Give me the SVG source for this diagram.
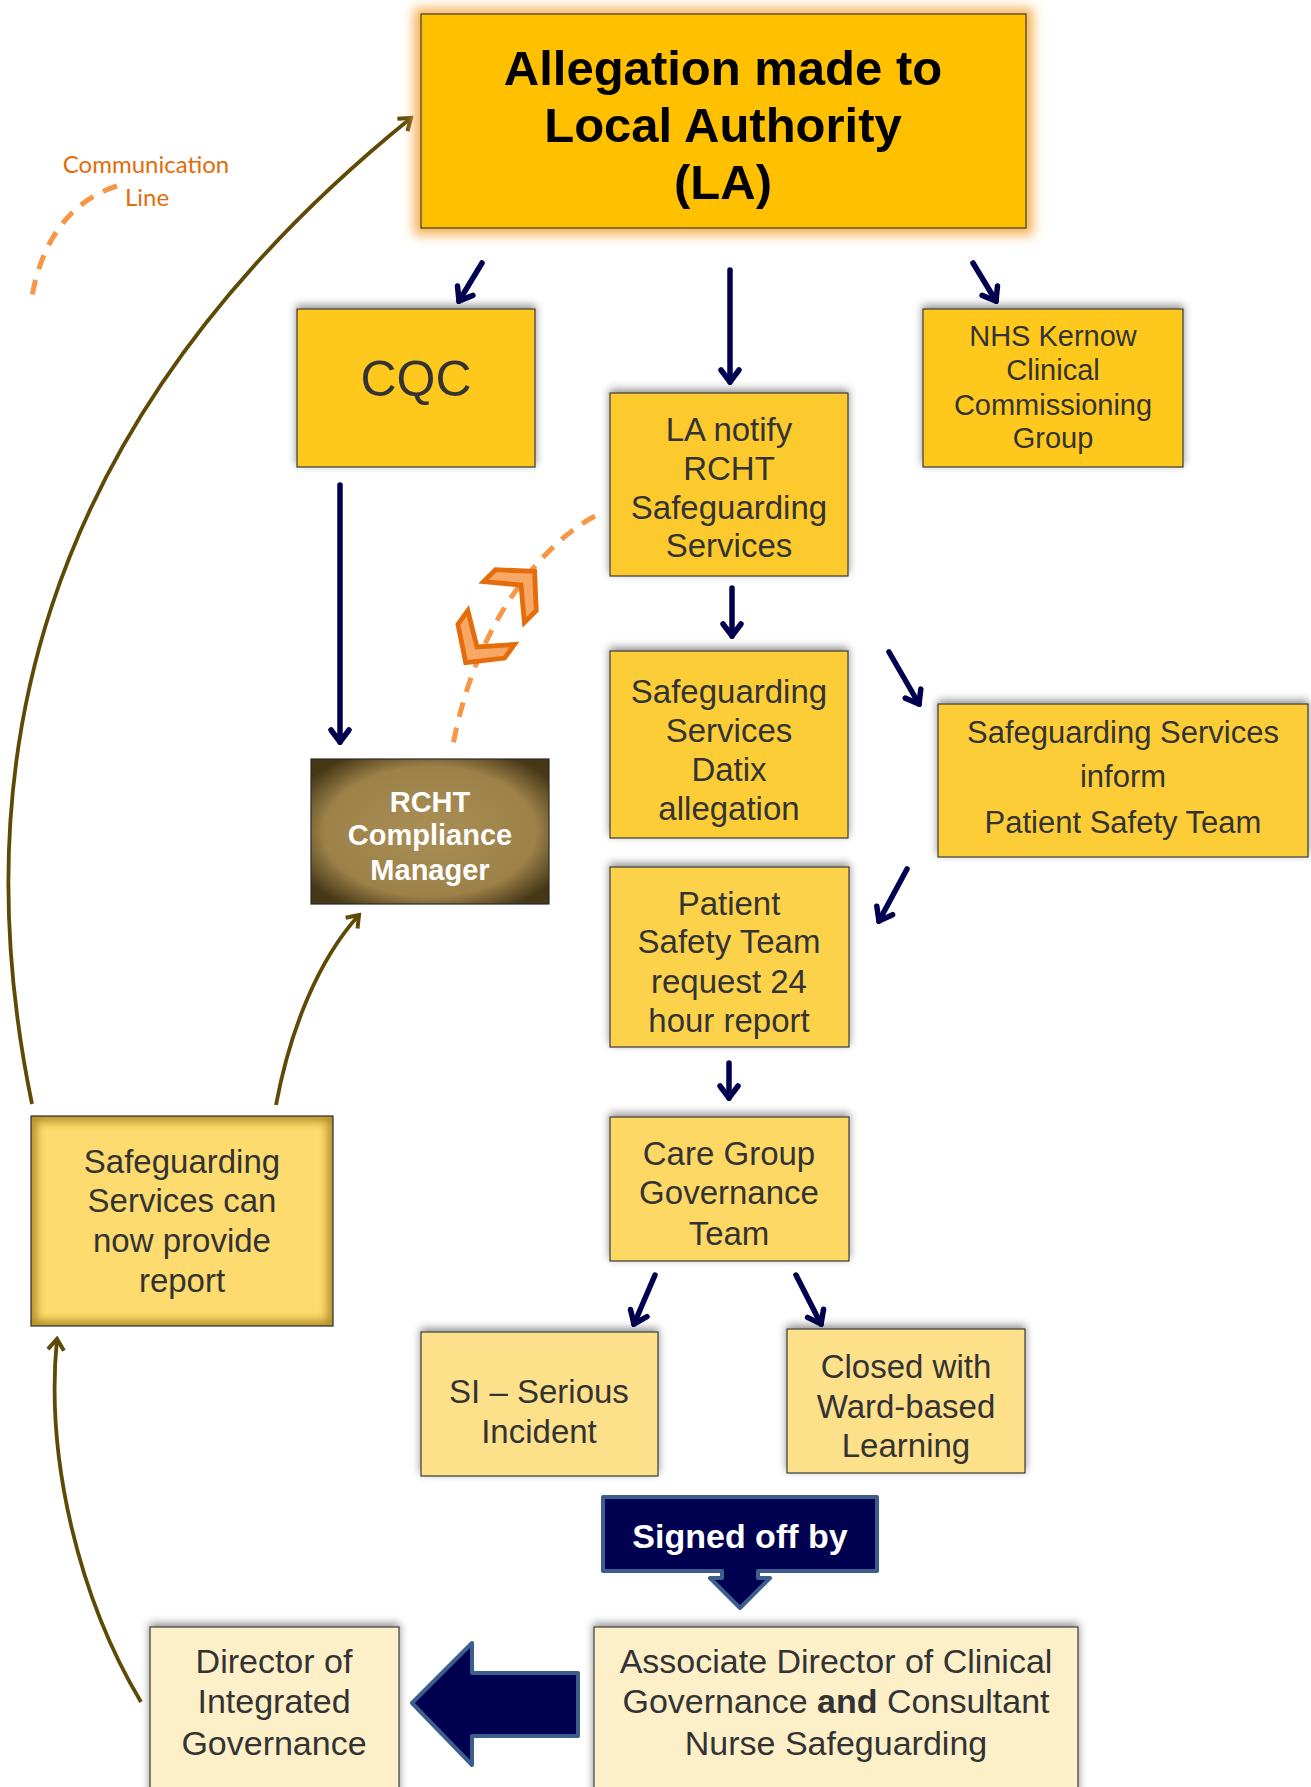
<svg xmlns="http://www.w3.org/2000/svg" width="1311" height="1787" viewBox="0 0 1311 1787">
<style>
  .box { stroke: #3a3a3a; stroke-width: 1.2; }
  .txt { font-family: "Liberation Sans", Arial, sans-serif; fill: #333333; text-anchor: middle; }
  .t33 { font-size: 33px; }
  .t34 { font-size: 34px; }
  .nav { fill: none; stroke: #000050; stroke-width: 5.5; stroke-linecap: round; }
  .brn { fill: none; stroke: #5f4a05; stroke-width: 3.8; }
  .dash { fill: none; stroke: #f79646; stroke-width: 5; stroke-dasharray: 15 11; }
  .chev { fill: #f8a865; stroke: #e46c0a; stroke-width: 4; stroke-linejoin: miter; }
</style>
<defs>
  <filter id="sh" x="-10%" y="-15%" width="120%" height="130%">
    <feDropShadow dx="0" dy="-3" stdDeviation="4" flood-color="#000" flood-opacity="0.45"/>
  </filter>
  <filter id="glow" x="-10%" y="-20%" width="120%" height="140%">
    <feGaussianBlur stdDeviation="6"/>
  </filter>
  <filter id="soft" x="-5%" y="-5%" width="110%" height="110%">
    <feGaussianBlur stdDeviation="5"/>
  </filter>
  <clipPath id="clipRep"><rect x="31" y="1116" width="302" height="210"/></clipPath>
  <radialGradient id="gRcht" cx="50%" cy="50%" r="62%">
    <stop offset="0%" stop-color="#a98e56"/>
    <stop offset="72%" stop-color="#9c8149"/>
    <stop offset="100%" stop-color="#463716"/>
  </radialGradient>
  <marker id="mNav" viewBox="0 0 18 24" refX="15" refY="12" markerWidth="18" markerHeight="24" markerUnits="userSpaceOnUse" orient="auto">
    <path d="M3,3 L15,12 L3,21" fill="none" stroke="#000050" stroke-width="5.5" stroke-linecap="round" stroke-linejoin="miter"/>
  </marker>
  <marker id="mBrn" viewBox="0 0 16 20" refX="13" refY="10" markerWidth="16" markerHeight="20" markerUnits="userSpaceOnUse" orient="auto">
    <path d="M2,2 L13,10 L2,18" fill="none" stroke="#5f4a05" stroke-width="4"/>
  </marker>
</defs>

<rect width="1311" height="1787" fill="#ffffff"/>

<!-- legend -->
<g id="legend">
  <path class="dash" d="M117,186 C 72,200 40,240 31,303"/>
  <text x="146" y="173" font-family="Lato, 'Open Sans', sans-serif" font-size="24" fill="#e46c0a" text-anchor="middle">Communication</text>
  <text x="147" y="206" font-family="Lato, 'Open Sans', sans-serif" font-size="24" fill="#e46c0a" text-anchor="middle">Line</text>
</g>

<!-- connectors -->
<g id="connectors">
  <line class="nav" x1="482" y1="263" x2="459" y2="301" marker-end="url(#mNav)"/>
  <line class="nav" x1="730" y1="270" x2="730" y2="382" marker-end="url(#mNav)"/>
  <line class="nav" x1="973" y1="263" x2="996" y2="301" marker-end="url(#mNav)"/>
  <line class="nav" x1="340" y1="485" x2="340" y2="742" marker-end="url(#mNav)"/>
  <line class="nav" x1="732" y1="588" x2="732" y2="636" marker-end="url(#mNav)"/>
  <line class="nav" x1="889" y1="652" x2="919" y2="704" marker-end="url(#mNav)"/>
  <line class="nav" x1="907" y1="869" x2="879" y2="921" marker-end="url(#mNav)"/>
  <line class="nav" x1="729" y1="1063" x2="729" y2="1098" marker-end="url(#mNav)"/>
  <line class="nav" x1="655" y1="1275" x2="634" y2="1324" marker-end="url(#mNav)"/>
  <line class="nav" x1="796" y1="1275" x2="821" y2="1324" marker-end="url(#mNav)"/>

  <path class="brn" d="M32,1104 C -35,780 25,430 411,118" marker-end="url(#mBrn)"/>
  <path class="brn" d="M276,1105 C 290,1030 318,960 359,915" marker-end="url(#mBrn)"/>
  <path class="brn" d="M141,1702 C 80,1600 45,1460 57,1339" marker-end="url(#mBrn)"/>

  <path class="dash" d="M595,516 C 550,540 478,612 453,745"/>
  <polygon class="chev" transform="translate(521,585) rotate(-45) scale(1.2)" points="16,0 -6,-24 -20,-24 0,0 -20,24 -6,24"/>
  <polygon class="chev" transform="translate(477,647) rotate(126) scale(1.2)" points="16,0 -6,-24 -20,-24 0,0 -20,24 -6,24"/>

  <path d="M412,1703 L472,1643 L472,1673 L578,1673 L578,1736 L472,1736 L472,1765 Z" fill="#000050" stroke="#3b5e8c" stroke-width="4" stroke-linejoin="round"/>
</g>

<!-- nodes -->
<g id="n-allegation">
  <rect x="414" y="8" width="619" height="227" fill="#f6b152" filter="url(#glow)"/>
  <rect class="box" x="421" y="14" width="605" height="214" fill="#ffc000"/>
  <g font-family="'Liberation Sans', Arial, sans-serif" font-weight="bold" font-size="49" fill="#000" text-anchor="middle">
    <text x="723" y="85">Allegation made to</text>
    <text x="723" y="142">Local Authority</text>
    <text x="723" y="199">(LA)</text>
  </g>
</g>

<g id="n-cqc">
  <rect class="box" x="297" y="309" width="238" height="158" fill="#fec81c" filter="url(#sh)"/>
  <text class="txt" x="416" y="396" font-size="50">CQC</text>
</g>

<g id="n-nhs">
  <rect class="box" x="923" y="309" width="260" height="158" fill="#fec81c" filter="url(#sh)"/>
  <g class="txt" font-size="29">
    <text x="1053" y="346">NHS Kernow</text>
    <text x="1053" y="380">Clinical</text>
    <text x="1053" y="415">Commissioning</text>
    <text x="1053" y="448">Group</text>
  </g>
</g>

<g id="n-la-notify">
  <rect class="box" x="610" y="393" width="238" height="183" fill="#fdca2e" filter="url(#sh)"/>
  <g class="txt t33">
    <text x="729" y="441">LA notify</text>
    <text x="729" y="480">RCHT</text>
    <text x="729" y="519">Safeguarding</text>
    <text x="729" y="557">Services</text>
  </g>
</g>

<g id="n-datix">
  <rect class="box" x="610" y="651" width="238" height="187" fill="#fdcd38" filter="url(#sh)"/>
  <g class="txt t33">
    <text x="729" y="703">Safeguarding</text>
    <text x="729" y="742">Services</text>
    <text x="729" y="781">Datix</text>
    <text x="729" y="820">allegation</text>
  </g>
</g>

<g id="n-inform">
  <rect class="box" x="938" y="704" width="370" height="153" fill="#fdcd38" filter="url(#sh)"/>
  <g class="txt" font-size="31">
    <text x="1123" y="743">Safeguarding Services</text>
    <text x="1123" y="787">inform</text>
    <text x="1123" y="833">Patient Safety Team</text>
  </g>
</g>

<g id="n-rcht">
  <rect x="311" y="759" width="238" height="145" fill="url(#gRcht)" stroke="#2a2a2a" stroke-width="1.2"/>
  <g font-family="'Liberation Sans', Arial, sans-serif" font-weight="bold" font-size="29" fill="#ffffff" text-anchor="middle">
    <text x="430" y="812">RCHT</text>
    <text x="430" y="845">Compliance</text>
    <text x="430" y="880">Manager</text>
  </g>
</g>

<g id="n-patient">
  <rect class="box" x="610" y="867" width="239" height="180" fill="#fdd24c" filter="url(#sh)"/>
  <g class="txt t33">
    <text x="729" y="915">Patient</text>
    <text x="729" y="953">Safety Team</text>
    <text x="729" y="993">request 24</text>
    <text x="729" y="1032">hour report</text>
  </g>
</g>

<g id="n-caregroup">
  <rect class="box" x="610" y="1117" width="239" height="144" fill="#fdd865" filter="url(#sh)"/>
  <g class="txt t33">
    <text x="729" y="1165">Care Group</text>
    <text x="729" y="1204">Governance</text>
    <text x="729" y="1245">Team</text>
  </g>
</g>

<g id="n-report">
  <rect x="31" y="1116" width="302" height="210" fill="#fddb6e"/>
  <rect x="31" y="1116" width="302" height="210" fill="none" stroke="#a88420" stroke-width="10" filter="url(#soft)" clip-path="url(#clipRep)"/>
  <rect x="31" y="1116" width="302" height="210" fill="none" stroke="#2a2a2a" stroke-width="1.2"/>
  <g class="txt t33">
    <text x="182" y="1173">Safeguarding</text>
    <text x="182" y="1212">Services can</text>
    <text x="182" y="1252">now provide</text>
    <text x="182" y="1292">report</text>
  </g>
</g>

<g id="n-si">
  <rect class="box" x="421" y="1332" width="237" height="144" fill="#fde08a" filter="url(#sh)"/>
  <g class="txt t33">
    <text x="539" y="1403">SI – Serious</text>
    <text x="539" y="1443">Incident</text>
  </g>
</g>

<g id="n-closed">
  <rect class="box" x="787" y="1329" width="238" height="144" fill="#fde08a" filter="url(#sh)"/>
  <g class="txt t33">
    <text x="906" y="1378">Closed with</text>
    <text x="906" y="1418">Ward-based</text>
    <text x="906" y="1457">Learning</text>
  </g>
</g>

<g id="n-signed">
  <path d="M603,1497 H877 V1571 H758 V1578 H770 L740,1608 L710,1578 H722 V1571 H603 Z" fill="#000050" stroke="#3b5e8c" stroke-width="4" stroke-linejoin="round"/>
  <text x="740" y="1548" font-family="'Liberation Sans', Arial, sans-serif" font-weight="bold" font-size="34" fill="#ffffff" text-anchor="middle">Signed off by</text>
</g>

<g id="n-director">
  <rect class="box" x="150" y="1627" width="249" height="175" fill="#fdf0c9" filter="url(#sh)"/>
  <g class="txt t34">
    <text x="274" y="1673">Director of</text>
    <text x="274" y="1713">Integrated</text>
    <text x="274" y="1755">Governance</text>
  </g>
</g>

<g id="n-associate">
  <rect class="box" x="594" y="1627" width="484" height="175" fill="#fdf0c9" filter="url(#sh)"/>
  <g class="txt t34">
    <text x="836" y="1673">Associate Director of Clinical</text>
    <text x="836" y="1713">Governance <tspan font-weight="bold">and</tspan> Consultant</text>
    <text x="836" y="1755">Nurse Safeguarding</text>
  </g>
</g>
</svg>
